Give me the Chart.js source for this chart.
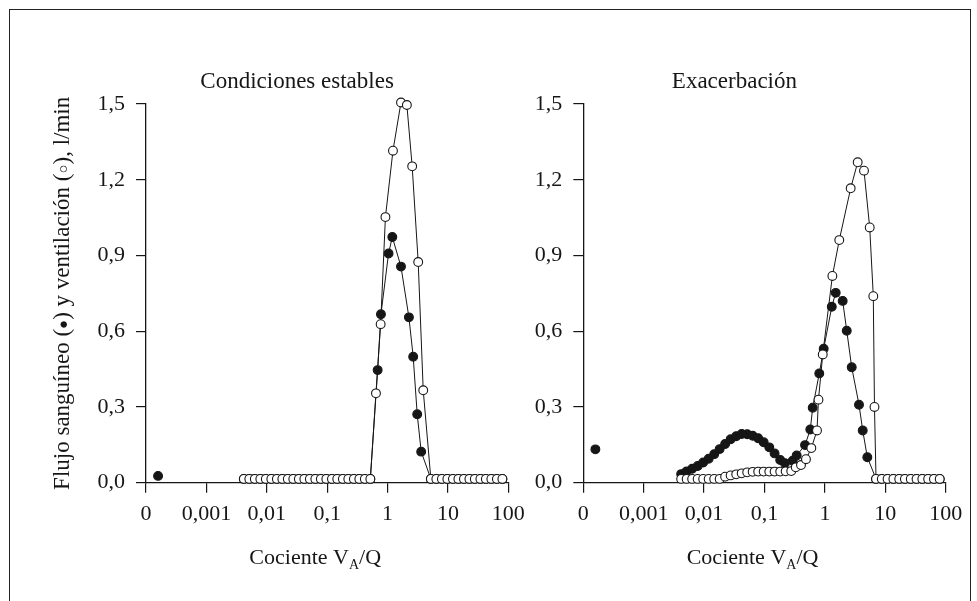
<!DOCTYPE html>
<html lang="es">
<head>
<meta charset="UTF-8">
<title>Distribución VA/Q</title>
<script src="https://cdn.jsdelivr.net/npm/chart.js"></script>
<style>
  body { margin: 0; background: #fff; }
  .frame { position: absolute; left: 9px; top: 9px; width: 960px; height: 620px; border: 1.5px solid #222; border-bottom: none; }
  canvas { position: absolute; top: 0; }
  #stable { left: 0; }
  #exacer { left: 490px; }
</style>
</head>
<body>
<div class="frame"></div>
<canvas id="stable" width="540" height="601"></canvas>
<canvas id="exacer" width="487" height="601"></canvas>

<script>
// etiquetas del eje x (décadas de VA/Q, el "0" es el cortocircuito)
const xTickLabels = ['0', '0,001', '0,01', '0,1', '1', '10', '100'];

// Condiciones estables: ventilación (o) y flujo sanguíneo (•), l/min
const stableVentRatio = [
  0.00417, 0.00514, 0.00634, 0.00782, 0.00965, 0.0119, 0.0147, 0.0181, 0.0223, 0.0275, 0.0340, 0.0419,
  0.0517, 0.0637, 0.0786, 0.0969, 0.120, 0.147, 0.182, 0.224, 0.277, 0.341, 0.421, 0.519,
  0.643, 0.769, 0.923, 1.23, 1.67, 2.09, 2.56, 3.22, 3.90,
  5.22, 6.43, 7.94, 9.79, 12.1, 14.9, 18.4, 22.7, 27.9, 34.5, 42.5, 52.4, 64.7, 79.8
];
const stableVentFlow = [
  0.015, 0.015, 0.015, 0.015, 0.015, 0.015, 0.015, 0.015, 0.015, 0.015, 0.015, 0.015,
  0.015, 0.015, 0.015, 0.015, 0.015, 0.015, 0.015, 0.015, 0.015, 0.015, 0.015, 0.015,
  0.354, 0.628, 1.052, 1.315, 1.506, 1.496, 1.253, 0.874, 0.366,
  0.015, 0.015, 0.015, 0.015, 0.015, 0.015, 0.015, 0.015, 0.015, 0.015, 0.015, 0.015, 0.015, 0.015
];
const stablePerfRatio = [
  0.00417, 0.00514, 0.00634, 0.00782, 0.00965, 0.0119, 0.0147, 0.0181, 0.0223, 0.0275, 0.0340, 0.0419,
  0.0517, 0.0637, 0.0786, 0.0969, 0.120, 0.147, 0.182, 0.224, 0.277, 0.341, 0.421, 0.519,
  0.686, 0.778, 1.04, 1.20, 1.67, 2.26, 2.66, 3.10, 3.61,
  5.22, 6.43, 7.94, 9.79, 12.1, 14.9, 18.4, 22.7, 27.9, 34.5, 42.5, 52.4, 64.7, 79.8
];
const stablePerfFlow = [
  0.015, 0.015, 0.015, 0.015, 0.015, 0.015, 0.015, 0.015, 0.015, 0.015, 0.015, 0.015,
  0.015, 0.015, 0.015, 0.015, 0.015, 0.015, 0.015, 0.015, 0.015, 0.015, 0.015, 0.015,
  0.446, 0.667, 0.908, 0.973, 0.856, 0.655, 0.499, 0.271, 0.123,
  0.015, 0.015, 0.015, 0.015, 0.015, 0.015, 0.015, 0.015, 0.015, 0.015, 0.015, 0.015, 0.015, 0.015
];
const stableShunt = 0.027;

// Exacerbación
const exaVentRatio = [
  0.00417, 0.00514, 0.00634, 0.00782, 0.00965, 0.0119, 0.0147, 0.0181, 0.0223, 0.0275, 0.0340,
  0.0419, 0.0517, 0.0637, 0.0786, 0.0969, 0.120, 0.147, 0.182, 0.224, 0.277,
  0.329, 0.402, 0.486, 0.596, 0.740, 0.783, 0.921, 1.33, 1.73, 2.67, 3.49, 4.44, 5.52, 6.33, 6.62,
  7.02, 8.75, 10.9, 13.6, 17.0, 21.1, 26.4, 32.9, 41.0, 51.2, 63.8, 79.6
];
const exaVentFlow = [
  0.015, 0.015, 0.015, 0.015, 0.015, 0.015, 0.015, 0.015, 0.024, 0.029, 0.033,
  0.037, 0.041, 0.043, 0.044, 0.044, 0.044, 0.044, 0.044, 0.045, 0.046,
  0.061, 0.070, 0.093, 0.137, 0.207, 0.329, 0.508, 0.819, 0.961, 1.166, 1.269, 1.236, 1.011, 0.739, 0.300,
  0.015, 0.015, 0.015, 0.015, 0.015, 0.015, 0.015, 0.015, 0.015, 0.015, 0.015, 0.015
];
const exaPerfRatio = [
  0.00417, 0.00514, 0.00634, 0.00782, 0.00965, 0.0119, 0.0147, 0.0181, 0.0223, 0.0275,
  0.0340, 0.0419, 0.0517, 0.0637, 0.0786, 0.0969, 0.120, 0.147, 0.182,
  0.218, 0.293, 0.341, 0.469, 0.573, 0.628, 0.807, 0.955, 1.30, 1.51, 1.97, 2.30, 2.78, 3.67, 4.23, 5.04,
  7.02, 8.75, 10.9, 13.6, 17.0, 21.1, 26.4, 32.9, 41.0, 51.2, 63.8, 79.6
];
const exaPerfFlow = [
  0.034, 0.045, 0.055, 0.066, 0.080, 0.095, 0.113, 0.133, 0.153, 0.172,
  0.184, 0.193, 0.192, 0.186, 0.176, 0.160, 0.140, 0.116, 0.090,
  0.077, 0.087, 0.108, 0.149, 0.211, 0.297, 0.433, 0.531, 0.697, 0.752, 0.720, 0.602, 0.457, 0.309, 0.207, 0.101,
  0.015, 0.015, 0.015, 0.015, 0.015, 0.015, 0.015, 0.015, 0.015, 0.015, 0.015, 0.015
];
const exaShunt = 0.132;

const FONT = "'Liberation Serif', 'Times New Roman', serif";
const INK = '#161616';
const SHUNT_POS = -3.8; // posición del compartimento VA/Q = 0 sobre el eje

function toPoints(ratios, flows) {
    return ratios.map((r, i) => ({ x: r === 0 ? SHUNT_POS : Math.log10(r), y: flows[i] }));
}

// dibuja una serie de trozos de texto seguidos: [texto, tamaño, desplazamiento vertical]
function drawRun(ctx, parts, cx, baseY) {
    let total = 0;
    parts.forEach(p => { ctx.font = `${p[1]}px ${FONT}`; total += ctx.measureText(p[0]).width; });
    let x = cx - total / 2;
    ctx.textAlign = 'left';
    parts.forEach(p => {
        ctx.font = `${p[1]}px ${FONT}`;
        ctx.fillText(p[0], x, baseY + p[2]);
        x += ctx.measureText(p[0]).width;
    });
}

function drawPanel(id, opts) {
    const panelText = {
        id: 'panelText',
        afterDraw: chart => {
            const ctx = chart.ctx;
            const a = chart.chartArea;
            const w = a.right - a.left;
            ctx.save();
            ctx.fillStyle = INK;
            ctx.textBaseline = 'alphabetic';
            ctx.font = `23px ${FONT}`;
            ctx.textAlign = 'center';
            ctx.fillText(opts.title, a.left + 0.417 * w, 88);

            drawRun(ctx, [['Cociente V', 22, 0], ['A', 14, 5], ['/Q', 22, 0]], a.left + 0.467 * w, 564);

            if (opts.yTitle) {
                ctx.translate(69, (a.top + a.bottom) / 2);
                ctx.rotate(-Math.PI / 2);
                drawRun(ctx, [
                    ['Flujo sanguíneo (', 23, 0], ['●', 15, -1], [') y ventilación (', 23, 0],
                    ['○', 15, -1], ['), l/min', 23, 0]
                ], 0, 0);
            }
            ctx.restore();
        }
    };

    const tickFont = { family: FONT, size: 22 };

    new Chart(document.getElementById(id), {
        type: 'scatter',
        data: {
            datasets: [
                { data: toPoints(opts.ventRatio, opts.ventFlow), showLine: true, pointBackgroundColor: '#fff' },
                { data: toPoints(opts.perfRatio, opts.perfFlow), showLine: true, pointBackgroundColor: INK },
                { data: toPoints([0], [opts.shunt]), showLine: false, pointBackgroundColor: INK }
            ]
        },
        options: {
            responsive: false,
            animation: false,
            layout: { padding: { left: 0, top: 104, right: opts.padRight, bottom: 0 } },
            plugins: { legend: { display: false }, tooltip: { enabled: false } },
            datasets: { scatter: { clip: false } },
            elements: {
                point: { radius: 4.4, borderWidth: 1.1, borderColor: INK },
                line: { borderWidth: 1, borderColor: INK, tension: 0 }
            },
            scales: {
                x: {
                    type: 'linear', min: -4, max: 2,
                    afterFit: s => { s.height = 118.3; },
                    ticks: {
                        stepSize: 1, autoSkip: false, maxRotation: 0, padding: 8,
                        color: INK, font: tickFont,
                        callback: v => xTickLabels[Math.round(v) + 4]
                    },
                    grid: { drawOnChartArea: false, tickLength: 10, color: INK, lineWidth: 1.2 },
                    border: { color: INK, width: 1.3 }
                },
                y: {
                    min: 0, max: 1.5,
                    afterFit: s => { s.width = opts.axisWidth; },
                    ticks: {
                        stepSize: 0.3, padding: 11, color: INK, font: tickFont,
                        callback: v => v.toFixed(1).replace('.', ',')
                    },
                    grid: { drawOnChartArea: false, tickLength: 10, color: INK, lineWidth: 1.2 },
                    border: { color: INK, width: 1.3 }
                }
            }
        },
        plugins: [panelText]
    });
}

drawPanel('stable', {
    title: 'Condiciones estables', yTitle: true,
    ventRatio: stableVentRatio, ventFlow: stableVentFlow,
    perfRatio: stablePerfRatio, perfFlow: stablePerfFlow,
    shunt: stableShunt, axisWidth: 146, padRight: 31.7
});

drawPanel('exacer', {
    title: 'Exacerbación', yTitle: false,
    ventRatio: exaVentRatio, ventFlow: exaVentFlow,
    perfRatio: exaPerfRatio, perfFlow: exaPerfFlow,
    shunt: exaShunt, axisWidth: 93.3, padRight: 31.3
});
</script>
</body>
</html>
